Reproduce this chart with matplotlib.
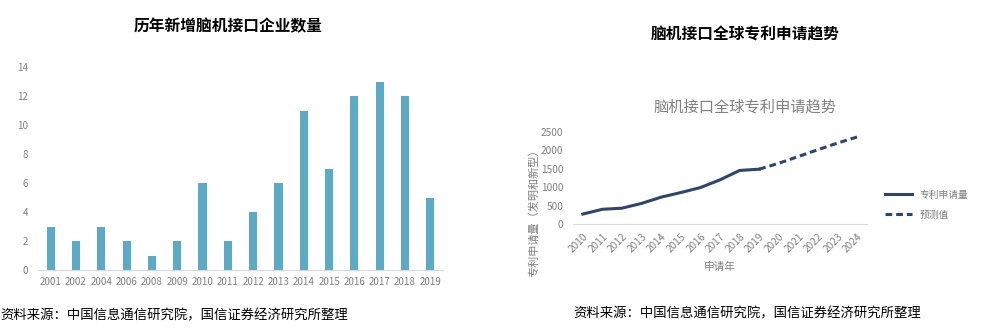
import matplotlib
matplotlib.use("Agg")
import matplotlib.pyplot as plt

plt.rcParams['font.family'] = ['Noto Sans CJK SC', 'DejaVu Sans']

# left chart data
years_left = ['2001', '2002', '2004', '2006', '2008', '2009', '2010', '2011',
              '2012', '2013', '2014', '2015', '2016', '2017', '2018', '2019']
new_companies = [3, 2, 3, 2, 1, 2, 6, 2, 4, 6, 11, 7, 12, 13, 12, 5]

# right chart data
years_right = ['2010', '2011', '2012', '2013', '2014', '2015', '2016', '2017',
               '2018', '2019', '2020', '2021', '2022', '2023', '2024']
patents = [270, 400, 430, 560, 730, 855, 990, 1200, 1455, 1490]
forecast_years = ['2019', '2020', '2021', '2022', '2023', '2024']
forecast = [1490, 1650, 1835, 2020, 2200, 2365]

grey = '#808080'
bar_color = '#5BABC6'
line_color = '#2E4570'
source = '资料来源：中国信息通信研究院，国信证券经济研究所整理'

fig = plt.figure(figsize=(10, 3.34), dpi=100)

# ---- left: bar chart
ax1 = fig.add_axes([0.038, 1 - 270 / 334, 0.405, (270 - 67) / 334])
x1 = list(range(len(years_left)))
ax1.bar(x1, new_companies, width=0.32, color=bar_color)
ax1.set_xlim(-0.5, len(years_left) - 0.5)
ax1.set_ylim(0, 14)
ax1.set_yticks(range(0, 15, 2))
ax1.set_xticks(x1)
ax1.set_xticklabels(years_left)
for s in ['top', 'right', 'left']:
    ax1.spines[s].set_visible(False)
ax1.spines['bottom'].set_color('#d9d9d9')
ax1.tick_params(length=0, labelsize=7, colors=grey, pad=5)
ax1.tick_params(axis='y', pad=7)

fig.text(0.228, 1 - 26 / 334, '历年新增脑机接口企业数量', ha='center', va='center',
         fontsize=11.3, fontweight='bold')
fig.text(0.0, 1 - 315 / 334, source, ha='left', va='center', fontsize=9.6)

# ---- right: line chart
ax2 = fig.add_axes([0.573, 1 - 224 / 334, 0.294, (224 - 132) / 334])
pos = {y: i for i, y in enumerate(years_right)}
ax2.plot([pos[y] for y in years_right[:len(patents)]], patents,
         color=line_color, lw=2.2, label='专利申请量')
ax2.plot([pos[y] for y in forecast_years], forecast,
         color=line_color, lw=2.2, ls=(0, (2.2, 1.3)), label='预测值')
ax2.set_xlim(-0.5, len(years_right) - 0.5)
ax2.set_ylim(0, 2500)
ax2.set_yticks(range(0, 2501, 500))
ax2.set_xticks(range(len(years_right)))
ax2.set_xticklabels(years_right, rotation=45, ha='right', rotation_mode='anchor')
for s in ['top', 'right', 'left']:
    ax2.spines[s].set_visible(False)
ax2.spines['bottom'].set_color('#d9d9d9')
ax2.tick_params(length=0, labelsize=7.3, colors=grey)
ax2.tick_params(axis='y', pad=7)
ax2.tick_params(axis='x', pad=5)
ax2.set_xlabel('申请年', fontsize=7.7, color=grey, labelpad=6)
ax2.set_ylabel('专利申请量（发明和新型）', fontsize=8, color=grey)
ax2.yaxis.set_label_coords(-0.115, 0.15)
ax2.legend(loc='center left', bbox_to_anchor=(1.03, 0.21), frameon=False,
           fontsize=7, labelcolor=grey, handlelength=2.8, labelspacing=1.0)

fig.text(0.745, 1 - 107 / 334, '脑机接口全球专利申请趋势', ha='center', va='center',
         fontsize=11, color=grey)
fig.text(0.745, 1 - 35 / 334, '脑机接口全球专利申请趋势', ha='center', va='center',
         fontsize=11.3, fontweight='bold')
fig.text(0.573, 1 - 313 / 334, source, ha='left', va='center', fontsize=9.6)

fig.savefig('out.png', dpi=100)
